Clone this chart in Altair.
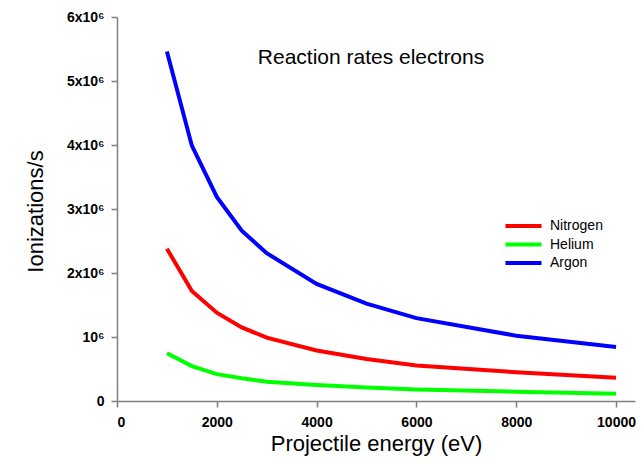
import altair as alt
import pandas as pd

energy = [1000, 1500, 2000, 2500, 3000, 4000, 5000, 6000, 8000, 10000]
nitrogen = [2.38e6, 1.72e6, 1.38e6, 1.15e6, 0.99e6, 0.79e6, 0.655e6, 0.555e6, 0.45e6, 0.365e6]
helium = [0.745e6, 0.545e6, 0.42e6, 0.355e6, 0.30e6, 0.25e6, 0.21e6, 0.18e6, 0.145e6, 0.113e6]
argon = [5.46e6, 3.99e6, 3.19e6, 2.66e6, 2.31e6, 1.83e6, 1.52e6, 1.295e6, 1.02e6, 0.845e6]
series_names = ["Nitrogen", "Helium", "Argon"]
series_colors = ["#ff0000", "#00ff00", "#0000ff"]
x_ticks = [0, 2000, 4000, 6000, 8000, 10000]
y_ticks = [0, 1e6, 2e6, 3e6, 4e6, 5e6, 6e6]

rows = []
for name, vals in zip(series_names, [nitrogen, helium, argon]):
    for e, v in zip(energy, vals):
        rows.append({"energy": e, "rate": v, "gas": name})
df = pd.DataFrame(rows)

FONT = "Liberation Sans"

chart = alt.Chart(df).mark_line(strokeWidth=4).encode(
    x=alt.X("energy:Q",
            scale=alt.Scale(domain=[0, 10380], nice=False, zero=False),
            axis=alt.Axis(values=x_ticks, title="Projectile energy (eV)", format="d",
                          grid=False, tickSize=6, labelPadding=8,
                          titleFontSize=22, titleFontWeight="normal",
                          titleY=42, titleBaseline="middle")),
    y=alt.Y("rate:Q",
            scale=alt.Scale(domain=[0, 6e6], nice=False),
            axis=alt.Axis(values=y_ticks, title="Ionizations/s", grid=False,
                          tickSize=6, labelPadding=7,
                          labelExpr="datum.value == 0 ? '0' : (datum.value == 1000000 ? '10⁶' : format(datum.value/1000000, 'd') + 'x10⁶')",
                          titleFontSize=22, titleFontWeight="normal",
                          titleX=-82, titleY=194, titleAngle=270, titleBaseline="middle")),
    color=alt.Color("gas:N",
                    scale=alt.Scale(domain=series_names, range=series_colors),
                    sort=series_names,
                    legend=alt.Legend(title=None, orient="none", legendX=386, legendY=201,
                                      symbolType="stroke", symbolStrokeWidth=4,
                                      symbolSize=1300, labelFontSize=14, labelOffset=6,
                                      labelFont=FONT, clipHeight=16, rowPadding=2.5,
                                      padding=0)),
    order=alt.Order("energy:Q"),
).properties(
    width=518,
    height=384,
    padding={"left": 109, "top": 9, "right": 1, "bottom": 55},
    autosize=alt.AutoSizeParams(type="none"),
    title=alt.Title("Reaction rates electrons", fontSize=21, font=FONT, fontWeight="normal",
                    anchor="middle", baseline="middle", offset=0, dy=69, dx=-5),
).configure_axis(
    labelFont=FONT, titleFont=FONT, labelFontWeight="bold", labelFontSize=14,
    labelColor="black", titleColor="black", domainColor="#808080", tickColor="#808080",
    domainWidth=1.5, tickWidth=1.5,
).configure_view(stroke=None)

chart.save("out.html", embed_options={"renderer": "svg", "actions": False})
